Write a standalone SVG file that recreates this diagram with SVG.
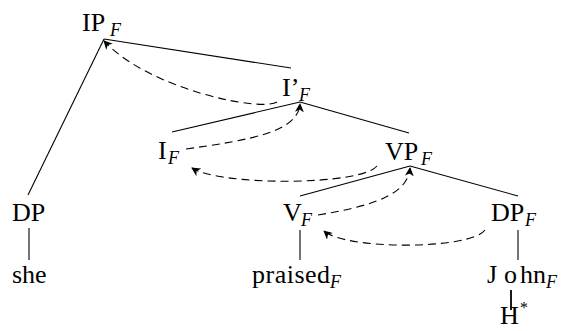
<svg xmlns="http://www.w3.org/2000/svg" width="564" height="331" viewBox="0 0 564 331">
<style>
text{font-family:'Liberation Serif','Times New Roman',serif}
.t{font-size:26px;fill:#000}
.s{font-size:18px;font-style:italic;fill:#000}
.e{stroke:#000;stroke-width:1.1;fill:none}
.m{stroke:#000;stroke-width:1.1;fill:none;stroke-dasharray:8 5;marker-end:url(#ah)}
</style>
<defs>
<marker id="ah" viewBox="0 0 10 10" refX="9" refY="5" markerWidth="9" markerHeight="9" markerUnits="userSpaceOnUse" orient="auto">
<path d="M0,0 L10,5 L0,10 L3,5 Z" fill="#000"/>
</marker>
</defs>
<g id="connectors">
<line class="e" x1="104" y1="39" x2="291" y2="68"/>
<line class="e" x1="104" y1="39" x2="28" y2="195"/>
<line class="e" x1="300" y1="102" x2="172" y2="132"/>
<line class="e" x1="300" y1="102" x2="409" y2="133"/>
<line class="e" x1="410" y1="166" x2="300" y2="196"/>
<line class="e" x1="410" y1="166" x2="518" y2="196"/>
<line class="e" x1="29" y1="228" x2="29" y2="260"/>
<line class="e" x1="300" y1="230" x2="300" y2="260"/>
<line class="e" x1="518" y1="230" x2="518" y2="260"/>
<line class="e" x1="511" y1="290" x2="511" y2="310" style="stroke-width:1.8"/>
<path class="m" d="M277,102 C262,112 150,90 104,41"/>
<path class="m" d="M186,149 C250,140 298,132 300,104"/>
<path class="m" d="M377,166 C360,186 220,186 192,168"/>
<path class="m" d="M318,215 C380,205 408,192 410,168"/>
<path class="m" d="M485,230 C470,250 345,250 324,231"/>
</g>
<g id="IP"><text class="t" x="82" y="31">IP</text><text class="s" x="110" y="36">F</text></g>
<g id="Ibar"><text class="t" x="282" y="96">I’</text><text class="s" x="299" y="101">F</text></g>
<g id="I"><text class="t" x="158" y="159">I</text><text class="s" x="168" y="164">F</text></g>
<g id="VP"><text class="t" x="385" y="160">VP</text><text class="s" x="421" y="165">F</text></g>
<g id="DP1"><text class="t" x="12" y="221">DP</text></g>
<g id="V"><text class="t" x="283" y="221">V</text><text class="s" x="301" y="226">F</text></g>
<g id="DP2"><text class="t" x="491" y="221">DP</text><text class="s" x="525" y="226">F</text></g>
<g id="she"><text class="t" x="12" y="283">she</text></g>
<g id="praised"><text class="t" x="252" y="283" letter-spacing="0.5">praised</text><text class="s" x="330" y="288">F</text></g>
<g id="John"><text class="t" y="283"><tspan x="487">J</tspan><tspan x="504">o</tspan><tspan x="520">hn</tspan></text><text class="s" x="546" y="288">F</text></g>
<g id="H"><text class="t" x="500" y="324">H</text><text class="s" x="520" y="313" style="font-style:normal;font-size:16px">*</text></g>
</svg>
